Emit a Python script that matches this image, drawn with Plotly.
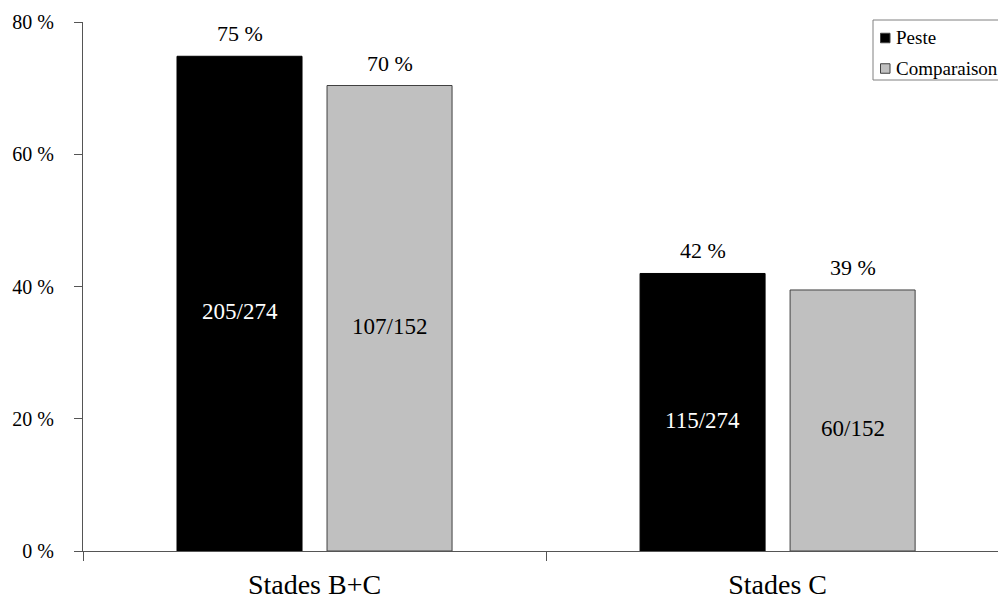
import plotly.graph_objects as go

categories = ["Stades B+C", "Stades C"]
series_names = ["Peste", "Comparaison"]
peste_num = [205, 115]
peste_den = [274, 274]
comp_num = [107, 60]
comp_den = [152, 152]
y_ticks = [0, 20, 40, 60, 80]
y_tick_text = [f"{v} %" for v in y_ticks]

FONT = "Liberation Serif, Times New Roman, serif"
BARGAP = 0.352
BARGROUPGAP = 1 / 6
W, H = 998, 600
ML, MR, MT, MB = 83, 0, 22, 49
PW, PH = W - ML - MR, H - MT - MB

peste_vals = [n / d * 100 for n, d in zip(peste_num, peste_den)]
comp_vals = [n / d * 100 for n, d in zip(comp_num, comp_den)]

colors = ["#000000", "#C0C0C0"]
outlines = ["#000000", "#404040"]
inner_text = ["white", "black"]

fig = go.Figure()
series = [
    (series_names[0], peste_vals, peste_num, peste_den),
    (series_names[1], comp_vals, comp_num, comp_den),
]
for si, (name, vals, nums, dens) in enumerate(series):
    fig.add_trace(go.Bar(
        name=name, x=categories, y=vals,
        marker=dict(color=colors[si], line=dict(color=outlines[si], width=1)),
        hoverinfo="skip", showlegend=False,
    ))

slot = (1 - BARGAP) / 2
annotations = []
for si, (name, vals, nums, dens) in enumerate(series):
    off = (si - 0.5) * slot
    for ci, v in enumerate(vals):
        annotations.append(dict(
            x=ci + off, y=v, xref="x", yref="y", text=f"{round(v)} %",
            showarrow=False, yanchor="bottom", yshift=8,
            font=dict(family=FONT, size=22, color="black"),
        ))
        annotations.append(dict(
            x=ci + off, y=v / 2, xref="x", yref="y", text=f"{nums[ci]}/{dens[ci]}",
            showarrow=False, yanchor="middle", yshift=-8,
            font=dict(family=FONT, size=23, color=inner_text[si]),
        ))


def px_x(p):
    return (p - ML) / PW


def px_y(p):
    return (H - MB - p) / PH


shapes = [dict(type="rect", xref="paper", yref="paper",
               x0=px_x(873), x1=px_x(1010), y0=px_y(80), y1=px_y(20),
               line=dict(color="#808080", width=1), fillcolor="white", layer="above")]
legend_rows = [38, 68.5]
for si, name in enumerate(series_names):
    cy = legend_rows[si]
    shapes.append(dict(type="rect", xref="paper", yref="paper",
                       x0=px_x(880.5), x1=px_x(890), y0=px_y(cy + 4.75), y1=px_y(cy - 4.75),
                       line=dict(color="#404040", width=1), fillcolor=colors[si], layer="above"))
    annotations.append(dict(
        x=px_x(894), y=px_y(cy), xref="paper", yref="paper", text=name,
        showarrow=False, xanchor="left", yanchor="middle",
        font=dict(family=FONT, size=19, color="black"),
    ))

fig.update_layout(
    width=W, height=H,
    margin=dict(l=ML, r=MR, t=MT, b=MB, autoexpand=False),
    paper_bgcolor="white", plot_bgcolor="white",
    barmode="group", bargap=BARGAP, bargroupgap=BARGROUPGAP,
    font=dict(family=FONT, color="black"),
    annotations=annotations, shapes=shapes,
    showlegend=False,
)
fig.update_xaxes(
    type="category", range=[-0.5, 1.476],
    showline=True, linecolor="#555555", linewidth=1,
    ticks="outside", tickson="boundaries", ticklen=9, tickcolor="#555555",
    tickfont=dict(family=FONT, size=28, color="black"),
    ticklabelstandoff=8,
    showgrid=False, zeroline=False,
)
fig.update_yaxes(
    range=[0, 80], tickmode="array", tickvals=y_ticks, ticktext=y_tick_text,
    showline=True, linecolor="#555555", linewidth=1,
    ticks="outside", ticklen=8, tickcolor="#555555",
    tickfont=dict(family=FONT, size=20, color="black"),
    ticklabelstandoff=16,
    showgrid=False, zeroline=False,
)

fig.write_html(
    "out.html",
    config={"displayModeBar": False},
    post_script="document.body.style.margin='0';document.body.style.overflow='hidden';",
)
